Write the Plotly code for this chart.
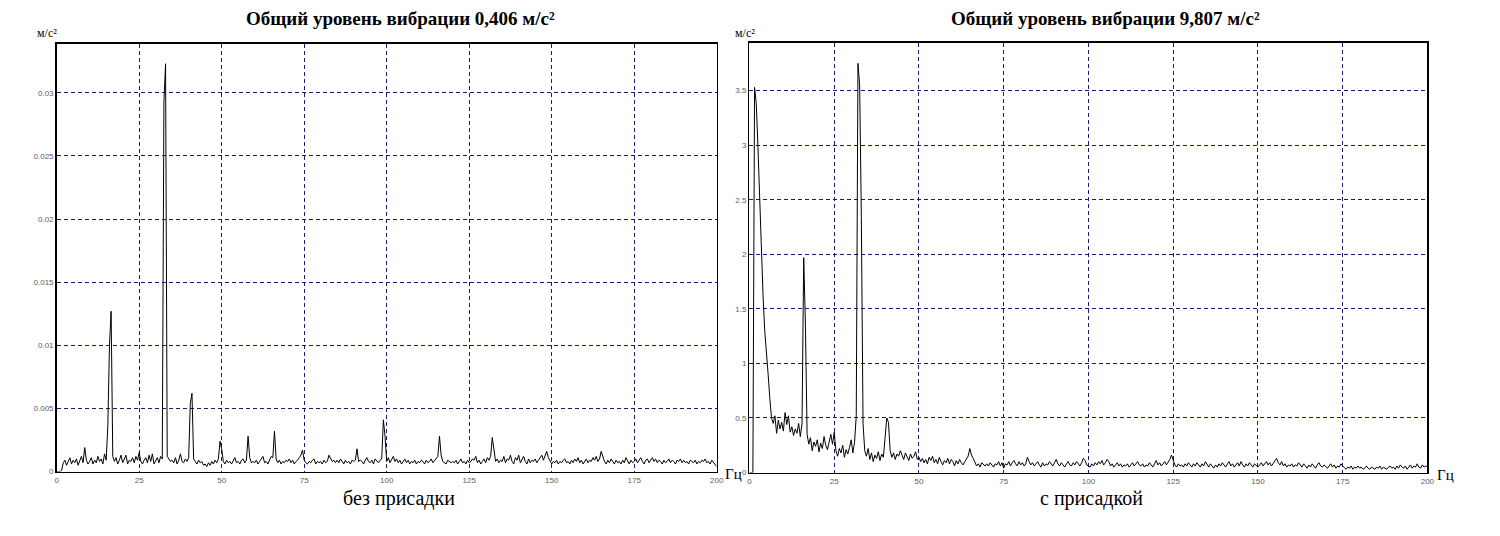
import plotly.graph_objects as go

# ---------------- data ----------------
FREQ_STEP = 0.5  # Hz, spectrum bin width

# amplitude spectrum without additive, m/s^2 (bins 0 .. 200 Hz, step 0.5 Hz)
left_amp = [
    0, 0, 0, .0001, .0007, .0009, .0005, .0008, .0011, .0006,            # 0-4.5
    .0009, .0007, .0010, .0005, .0008, .0012, .0007, .0019, .0009, .0006,  # 5-9.5
    .0008, .0011, .0006, .0009, .0007, .0012, .0008, .0010, .0006, .0014,  # 10-14.5
    .0009, .0036, .0100, .0127, .0012, .0008, .0011, .0006, .0009, .0013,  # 15-19.5
    .0007, .0010, .0013, .0006, .0009, .0008, .0011, .0007, .0012, .0009,  # 20-24.5
    .0015, .0008, .0006, .0009, .0011, .0007, .0013, .0008, .0014, .0006,  # 25-29.5
    .0009, .0011, .0007, .0012, .0010, .0293, .0323, .0012, .0010, .0008,  # 30-34.5
    .0009, .0007, .0011, .0006, .0009, .0014, .0008, .0007, .0010, .0008,  # 35-39.5
    .0011, .0054, .0062, .0010, .0008, .0006, .0009, .0007, .0008, .0005,  # 40-44.5
    .0006, .0004, .0007, .0005, .0008, .0006, .0009, .0007, .0010, .0024,  # 45-49.5
    .0018, .0008, .0006, .0009, .0007, .0008, .0006, .0009, .0011, .0007,  # 50-54.5
    .0008, .0006, .0009, .0010, .0007, .0009, .0028, .0011, .0007, .0008,  # 55-59.5
    .0007, .0009, .0006, .0008, .0010, .0012, .0007, .0008, .0006, .0009,  # 60-64.5
    .0012, .0011, .0032, .0010, .0007, .0009, .0006, .0008, .0007, .0009,  # 65-69.5
    .0008, .0010, .0007, .0009, .0006, .0008, .0009, .0011, .0013, .0017,  # 70-74.5
    .0009, .0007, .0006, .0008, .0007, .0009, .0010, .0006, .0008, .0007,  # 75-79.5
    .0008, .0006, .0009, .0007, .0008, .0013, .0010, .0008, .0009, .0007,  # 80-84.5
    .0009, .0007, .0010, .0008, .0006, .0009, .0007, .0008, .0006, .0009,  # 85-89.5
    .0008, .0009, .0018, .0008, .0009, .0008, .0006, .0009, .0011, .0008,  # 90-94.5
    .0007, .0009, .0006, .0010, .0008, .0007, .0009, .0010, .0041, .0028,  # 95-99.5
    .0008, .0011, .0007, .0009, .0012, .0008, .0010, .0007, .0009, .0006,  # 100-104.5
    .0008, .0010, .0007, .0009, .0006, .0008, .0007, .0009, .0006, .0008,  # 105-109.5
    .0007, .0009, .0008, .0006, .0009, .0007, .0008, .0010, .0007, .0009,  # 110-114.5
    .0011, .0012, .0028, .0013, .0008, .0007, .0006, .0009, .0008, .0007,  # 115-119.5
    .0008, .0007, .0009, .0006, .0008, .0010, .0007, .0008, .0006, .0009,  # 120-124.5
    .0007, .0008, .0010, .0009, .0012, .0007, .0009, .0006, .0008, .0010,  # 125-129.5
    .0007, .0011, .0009, .0012, .0027, .0015, .0008, .0010, .0007, .0009,  # 130-134.5
    .0008, .0012, .0007, .0010, .0009, .0013, .0008, .0006, .0011, .0009,  # 135-139.5
    .0013, .0007, .0009, .0012, .0008, .0006, .0010, .0007, .0009, .0008,  # 140-144.5
    .0010, .0007, .0009, .0011, .0013, .0009, .0012, .0016, .0011, .0008,  # 145-149.5
    .0006, .0008, .0007, .0009, .0006, .0008, .0007, .0009, .0010, .0007,  # 150-154.5
    .0008, .0006, .0009, .0007, .0010, .0008, .0011, .0007, .0009, .0006,  # 155-159.5
    .0008, .0010, .0007, .0009, .0008, .0011, .0009, .0012, .0008, .0010,  # 160-164.5
    .0016, .0011, .0008, .0006, .0009, .0007, .0010, .0008, .0006, .0009,  # 165-169.5
    .0007, .0008, .0006, .0009, .0007, .0011, .0008, .0006, .0009, .0007,  # 170-174.5
    .0008, .0010, .0007, .0009, .0011, .0008, .0006, .0009, .0010, .0007,  # 175-179.5
    .0009, .0011, .0008, .0010, .0007, .0009, .0008, .0006, .0009, .0007,  # 180-184.5
    .0008, .0010, .0007, .0009, .0008, .0006, .0009, .0008, .0010, .0007,  # 185-189.5
    .0009, .0007, .0008, .0006, .0009, .0008, .0007, .0009, .0006, .0008,  # 190-194.5
    .0007, .0009, .0008, .0010, .0007, .0008, .0006, .0009, .0007, .0005,  # 195-199.5
    .0004,                                                                  # 200
]

# amplitude spectrum with additive, m/s^2 (bins 0 .. 200 Hz, step 0.5 Hz)
right_amp = [
    0, 0, 0, 3.53, 3.38, 2.98, 2.50, 1.95, 1.62, 1.30,             # 0-4.5
    1.05, 0.90, 0.68, 0.50, 0.45, 0.52, 0.36, 0.48, 0.40, 0.46,    # 5-9.5
    0.38, 0.55, 0.44, 0.52, 0.37, 0.42, 0.34, 0.40, 0.36, 0.45,    # 10-14.5
    0.33, 0.45, 1.97, 1.36, 0.35, 0.26, 0.32, 0.20, 0.28, 0.24,    # 15-19.5
    0.30, 0.19, 0.27, 0.22, 0.33, 0.25, 0.21, 0.29, 0.35, 0.26,    # 20-24.5
    0.37, 0.20, 0.15, 0.22, 0.18, 0.25, 0.14, 0.21, 0.17, 0.23,    # 25-29.5
    0.30, 0.18, 0.28, 0.52, 3.75, 3.55, 2.35, 0.45, 0.20, 0.15,    # 30-34.5
    0.22, 0.12, 0.18, 0.10, 0.16, 0.13, 0.19, 0.11, 0.17, 0.14,    # 35-39.5
    0.30, 0.50, 0.46, 0.20, 0.14, 0.18, 0.12, 0.17, 0.15, 0.20,    # 40-44.5
    0.16, 0.12, 0.18, 0.14, 0.11, 0.17, 0.13, 0.15, 0.19, 0.12,    # 45-49.5
    0.14, 0.10, 0.13, 0.09, 0.12, 0.08, 0.14, 0.11, 0.15, 0.09,    # 50-54.5
    0.12, 0.08, 0.14, 0.10, 0.07, 0.11, 0.09, 0.13, 0.08, 0.12,    # 55-59.5
    0.10, 0.06, 0.11, 0.08, 0.12, 0.09, 0.07, 0.10, 0.13, 0.15,    # 60-64.5
    0.22, 0.16, 0.13, 0.10, 0.06, 0.08, 0.05, 0.09, 0.07, 0.06,    # 65-69.5
    0.08, 0.06, 0.09, 0.07, 0.05, 0.08, 0.07, 0.10, 0.06, 0.09,    # 70-74.5
    0.04, 0.08, 0.07, 0.10, 0.06, 0.09, 0.11, 0.08, 0.06, 0.10,    # 75-79.5
    0.07, 0.09, 0.06, 0.08, 0.14, 0.10, 0.07, 0.09, 0.06, 0.08,    # 80-84.5
    0.10, 0.07, 0.05, 0.09, 0.06, 0.08, 0.07, 0.10, 0.08, 0.06,    # 85-89.5
    0.09, 0.12, 0.08, 0.06, 0.09, 0.07, 0.05, 0.08, 0.10, 0.07,    # 90-94.5
    0.06, 0.09, 0.07, 0.10, 0.08, 0.06, 0.09, 0.13, 0.11, 0.07,    # 95-99.5
    0.06, 0.05, 0.08, 0.06, 0.09, 0.07, 0.10, 0.08, 0.11, 0.07,    # 100-104.5
    0.09, 0.12, 0.10, 0.06, 0.08, 0.05, 0.07, 0.09, 0.06, 0.08,    # 105-109.5
    0.05, 0.07, 0.06, 0.08, 0.05, 0.07, 0.09, 0.06, 0.08, 0.10,    # 110-114.5
    0.07, 0.06, 0.08, 0.05, 0.07, 0.06, 0.09, 0.07, 0.05, 0.08,    # 115-119.5
    0.11, 0.07, 0.09, 0.06, 0.08, 0.10, 0.07, 0.09, 0.12, 0.16,    # 120-124.5
    0.11, 0.07, 0.05, 0.08, 0.06, 0.07, 0.05, 0.08, 0.06, 0.09,    # 125-129.5
    0.07, 0.05, 0.08, 0.06, 0.09, 0.07, 0.05, 0.08, 0.06, 0.10,    # 130-134.5
    0.07, 0.05, 0.08, 0.06, 0.04, 0.07, 0.05, 0.08, 0.06, 0.09,    # 135-139.5
    0.07, 0.05, 0.08, 0.10, 0.06, 0.08, 0.05, 0.07, 0.09, 0.06,    # 140-144.5
    0.10, 0.07, 0.05, 0.08, 0.06, 0.09, 0.07, 0.05, 0.08, 0.06,    # 145-149.5
    0.05, 0.07, 0.09, 0.06, 0.08, 0.10, 0.07, 0.09, 0.06, 0.08,    # 150-154.5
    0.11, 0.13, 0.09, 0.07, 0.10, 0.06, 0.08, 0.05, 0.07, 0.06,    # 155-159.5
    0.08, 0.05, 0.07, 0.06, 0.09, 0.07, 0.05, 0.08, 0.06, 0.04,    # 160-164.5
    0.07, 0.05, 0.08, 0.06, 0.04, 0.07, 0.09, 0.06, 0.05, 0.07,    # 165-169.5
    0.05, 0.04, 0.06, 0.08, 0.05, 0.07, 0.04, 0.06, 0.05, 0.08,    # 170-174.5
    0.06, 0.04, 0.03, 0.05, 0.04, 0.06, 0.03, 0.05, 0.04, 0.06,    # 175-179.5
    0.04, 0.05, 0.03, 0.04, 0.06, 0.04, 0.03, 0.05, 0.04, 0.03,    # 180-184.5
    0.05, 0.04, 0.06, 0.03, 0.05, 0.04, 0.03, 0.05, 0.06, 0.04,    # 185-189.5
    0.05, 0.03, 0.06, 0.04, 0.07, 0.05, 0.04, 0.06, 0.03, 0.05,    # 190-194.5
    0.07, 0.04, 0.06, 0.05, 0.08, 0.05, 0.04, 0.07, 0.05, 0.06,    # 195-199.5
    0.05,                                                          # 200
]

x_ticks = [0, 25, 50, 75, 100, 125, 150, 175, 200]
x_tick_labels = ["0", "25", "50", "75", "100", "125", "150", "175", "200"]
left_y_ticks = [0, 0.005, 0.01, 0.015, 0.02, 0.025, 0.03]
left_y_labels = ["0", "0.005", "0.01", "0.015", "0.02", "0.025", "0.03"]
right_y_ticks = [0, 0.5, 1, 1.5, 2, 2.5, 3, 3.5]
right_y_labels = ["0", "0.5", "1", "1.5", "2", "2.5", "3", "3.5"]

titles = ["Общий уровень вибрации 0,406 м/с²", "Общий уровень вибрации 9,807 м/с²"]
captions = ["без присадки", "с присадкой"]
unit_y = "м/с²"
unit_x = "Гц"

assert len(left_amp) == 401 and len(right_amp) == 401
freq = [i * FREQ_STEP for i in range(len(left_amp))]

# ---------------- figure ----------------
W, H = 1500, 536


def px(x):
    return x / W


def py(y):
    return 1 - y / H


fig = go.Figure()
fig.add_trace(go.Scatter(x=freq, y=left_amp, mode="lines",
                         line=dict(color="black", width=1),
                         xaxis="x", yaxis="y", hoverinfo="skip"))
fig.add_trace(go.Scatter(x=freq, y=right_amp, mode="lines",
                         line=dict(color="black", width=1),
                         xaxis="x2", yaxis="y2", hoverinfo="skip"))

axis_common = dict(
    showline=True, mirror=True, linecolor="black", linewidth=1.5,
    showgrid=True, gridcolor="#1c1c6e", gridwidth=1, griddash="4px,3px",
    zeroline=False, ticks="",
    tickfont=dict(family="Liberation Sans", size=8, color="#606060"),
    fixedrange=True,
)

fig.update_layout(
    width=W, height=H,
    margin=dict(l=0, r=0, t=0, b=0),
    paper_bgcolor="white", plot_bgcolor="white",
    showlegend=False,
    xaxis=dict(domain=[px(55), px(719)], range=[0, 200], anchor="y",
               tickvals=x_ticks, ticktext=x_tick_labels, **axis_common),
    yaxis=dict(domain=[py(476), py(44)], range=[0, 0.0339], anchor="x",
               tickvals=left_y_ticks, ticktext=left_y_labels, **axis_common),
    xaxis2=dict(domain=[px(752), px(1434)], range=[0, 200], anchor="y2",
                tickvals=x_ticks, ticktext=x_tick_labels, **axis_common),
    yaxis2=dict(domain=[py(477), py(43)], range=[0, 3.94], anchor="x2",
                tickvals=right_y_ticks, ticktext=right_y_labels, **axis_common),
)

serif = "Liberation Serif"
ann = []
for text, x, y, size, bold in [
    (titles[0], 401, 19, 19, True),
    (titles[1], 1110, 19, 19, True),
    (captions[0], 399, 503, 20, False),
    (captions[1], 1096, 503, 20, False),
    (unit_y, 45, 33, 12, False),
    (unit_y, 747, 33, 12, False),
    (unit_x, 736, 478, 15, False),
    (unit_x, 1452, 479, 15, False),
]:
    ann.append(dict(
        text=f"<b>{text}</b>" if bold else text,
        x=px(x), y=py(y), xref="paper", yref="paper",
        xanchor="center", yanchor="middle", showarrow=False,
        font=dict(family=serif, size=size, color="black"),
    ))
fig.update_layout(annotations=ann)

fig.write_html("out.html",
               config={"displayModeBar": False, "staticPlot": True},
               post_script="document.body.style.margin='0';"
                           "document.body.style.overflow='hidden';")
